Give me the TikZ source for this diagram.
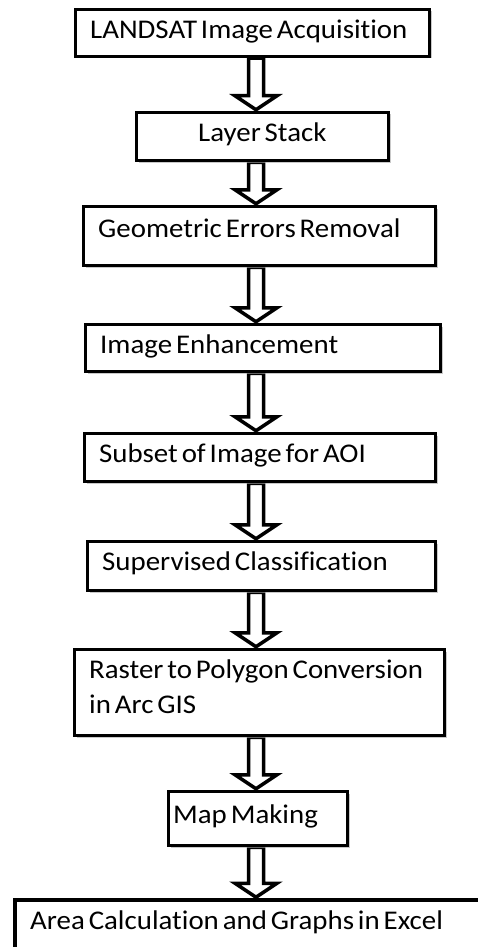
\documentclass[tikz,border=0pt]{standalone}
\usepackage{fontspec}
\setmainfont{Carlito}[FakeStretch=1.07, WordSpace=0.6, Ligatures=NoCommon]
\usetikzlibrary{calc,shadows,backgrounds}
\tikzset{
  box/.style={draw=black, line width=3.5pt, fill=white, rectangle, inner sep=0pt,
    drop shadow={shadow xshift=2pt, shadow yshift=-2pt, fill=black!35, opacity=0.6}},
  lbl/.style={anchor=base west, inner sep=0pt, font=\fontsize{27}{32}\selectfont},
  arr/.style={draw=black, line width=3.5pt, fill=white, line join=miter}
}
\newcommand\blockarrow[2]{%
  \draw[arr] let \p1=(#1.south -| axis), \p2=(#2.north -| axis) in
    (\x1-7.5pt,\y1) -- (\x1-7.5pt,\y2+15pt) -- (\x1-21pt,\y2+15pt) -- (\x1,\y2+1pt)
    -- (\x1+21pt,\y2+15pt) -- (\x1+7.5pt,\y2+15pt) -- (\x1+7.5pt,\y1) -- cycle;}
\begin{document}
\begin{tikzpicture}[x=1pt,y=-1pt]
\useasboundingbox (0,0) rectangle (478,947);
\clip (0,0) rectangle (478,947);
\coordinate (axis) at (256,0);
\node[box, minimum width=354pt, minimum height=47pt] (b1) at (252.5,33) {};
\node[box, minimum width=252pt, minimum height=48pt] (b2) at (262.5,136.5) {};
\node[box, minimum width=352pt, minimum height=59pt] (b3) at (259.5,236) {};
\node[box, minimum width=355pt, minimum height=47pt] (b4) at (263,348) {};
\node[box, minimum width=351pt, minimum height=48pt] (b5) at (260,457.5) {};
\node[box, minimum width=348pt, minimum height=49pt] (b6) at (261.5,566) {};
\node[box, minimum width=370pt, minimum height=86pt] (b7) at (259.5,692.5) {};
\node[box, minimum width=179pt, minimum height=54pt] (b8) at (258,818.5) {};
\node[box, minimum width=470pt, minimum height=64pt] (b9) at (250,932) {};
% labels
\node[lbl] (t1) at (90,39) {LANDSAT Image Acquisition};
\node[lbl] (t2) at (198,142) {Layer Stack};
\node[lbl] (t3) at (98,237) {Geometric Errors Removal};
\node[lbl] (t4) at (100,353) {Image Enhancement};
\node[lbl] (t5) at (99,462) {Subset of Image for AOI};
\node[lbl] (t6) at (102,570) {Supervised Classification};
\node[lbl] (t7a) at (89,678) {Raster to Polygon Conversion};
\node[lbl] (t7b) at (89,713) {in Arc GIS};
\node[lbl] (t8) at (173,823) {Map Making};
\node[lbl] (t9) at (30,929) {Area Calculation and Graphs in Excel};
% arrows
\begin{scope}[on background layer]
\fill[white] (0,0) rectangle (478,947);
\blockarrow{b1}{b2}
\blockarrow{b2}{b3}
\blockarrow{b3}{b4}
\blockarrow{b4}{b5}
\blockarrow{b5}{b6}
\blockarrow{b6}{b7}
\blockarrow{b7}{b8}
\blockarrow{b8}{b9}
\end{scope}
\end{tikzpicture}
\end{document}
